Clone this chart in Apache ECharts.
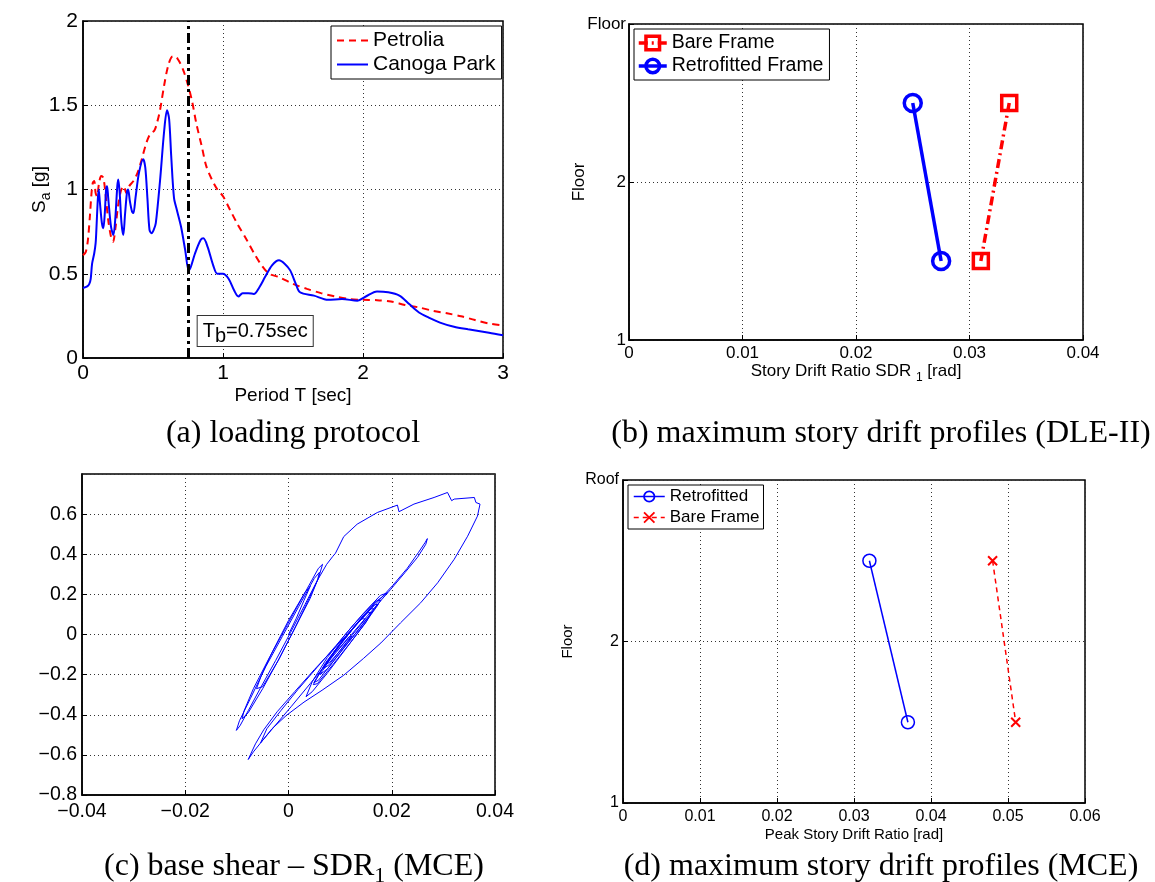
<!DOCTYPE html>
<html><head><meta charset="utf-8">
<script src="https://cdn.jsdelivr.net/npm/echarts@6/dist/echarts.min.js"></script>
<style>html,body{margin:0;padding:0;background:#fff}#c{width:1155px;height:882px}</style>
</head><body><div id="c"></div>
<script>
// ---------- Panel (a): response spectra ----------
const petroliaT  = [0,0.02,0.035,0.05,0.06,0.07,0.08,0.09,0.10,0.115,0.13,0.145,0.16,0.18,0.20,0.215,0.23,0.25,0.27,0.29,0.31,0.33,0.36,0.39,0.42,0.45,0.48,0.51,0.53,0.55,0.58,0.61,0.64,0.66,0.68,0.70,0.72,0.75,0.78,0.81,0.85,0.88,0.92,0.96,1.00,1.05,1.10,1.17,1.23,1.28,1.33,1.40,1.50,1.60,1.70,1.80,1.90,2.00,2.10,2.20,2.30,2.40,2.50,2.60,2.70,2.80,2.90,3.00];
const petroliaSa = [0.61,0.63,0.70,0.85,0.97,1.04,1.05,0.98,0.96,1.04,1.08,1.07,0.98,0.82,0.72,0.69,0.76,0.90,0.99,1.02,0.98,1.02,1.05,1.10,1.18,1.27,1.33,1.35,1.40,1.47,1.62,1.74,1.79,1.79,1.77,1.74,1.70,1.62,1.52,1.39,1.25,1.14,1.06,1.00,0.96,0.88,0.80,0.70,0.61,0.545,0.50,0.48,0.44,0.41,0.385,0.365,0.35,0.345,0.343,0.335,0.315,0.30,0.28,0.265,0.248,0.225,0.205,0.193];
const canogaT  = [0,0.03,0.045,0.055,0.065,0.08,0.09,0.095,0.105,0.112,0.12,0.135,0.145,0.155,0.165,0.172,0.18,0.20,0.217,0.23,0.245,0.252,0.262,0.275,0.288,0.30,0.315,0.322,0.335,0.35,0.36,0.375,0.40,0.43,0.445,0.46,0.475,0.49,0.505,0.52,0.55,0.58,0.60,0.615,0.63,0.65,0.67,0.70,0.73,0.755,0.77,0.80,0.84,0.86,0.89,0.93,0.96,1.00,1.04,1.08,1.11,1.14,1.18,1.22,1.26,1.30,1.35,1.40,1.44,1.48,1.52,1.55,1.65,1.75,1.85,1.96,2.02,2.10,2.18,2.26,2.33,2.40,2.47,2.55,2.65,2.75,2.90,3.00];
const canogaSa = [0.415,0.425,0.44,0.47,0.56,0.62,0.68,0.75,0.93,1.00,0.93,0.80,0.77,0.85,1.00,1.02,0.95,0.78,0.73,0.82,1.02,1.06,0.98,0.80,0.73,0.85,0.99,1.00,0.93,0.87,0.86,0.95,1.10,1.18,1.13,0.95,0.76,0.74,0.76,0.80,1.05,1.35,1.47,1.42,1.20,0.95,0.88,0.78,0.64,0.52,0.54,0.62,0.70,0.71,0.66,0.55,0.50,0.50,0.47,0.40,0.365,0.385,0.385,0.38,0.42,0.48,0.55,0.58,0.56,0.52,0.44,0.39,0.37,0.345,0.35,0.34,0.365,0.395,0.39,0.37,0.32,0.27,0.24,0.21,0.185,0.17,0.15,0.135];
const periodB = 0.75;

// ---------- Panel (b): DLE-II drift profiles ----------
const bFloors = [2.5, 1.5];
const bBare   = [0.0335, 0.031];
const bRetro  = [0.025, 0.0275];

// ---------- Panel (c): base shear vs SDR1 (x = SDR1, y = base shear) ----------
const cHyst = [
[0,0],[0.0015,0.08],[0.003,0.17],[0.0042,0.24],[0.0032,0.21],[0.0,0.07],[-0.003,-0.08],[-0.0052,-0.2],[-0.0062,-0.27],[-0.005,-0.26],[-0.002,-0.13],[0.0012,0.03],[0.004,0.18],[0.0058,0.28],[0.0066,0.35],[0.0058,0.33],[0.003,0.2],[-0.0002,0.05],[-0.0036,-0.11],[-0.0068,-0.27],[-0.0086,-0.38],[-0.009,-0.42],[-0.0078,-0.39],[-0.005,-0.27],[-0.0018,-0.12],[0.0014,0.04],[0.0042,0.18],[0.0056,0.27],[0.006,0.31],[0.005,0.28],[0.002,0.14],[-0.0012,-0.01],[-0.0044,-0.16],[-0.0074,-0.32],[-0.0095,-0.43],[-0.0101,-0.478],[-0.0094,-0.455],[-0.0078,-0.38],[-0.0055,-0.27],[-0.0025,-0.13],[0.0004,0.01],[0.0032,0.15],[0.0056,0.27],[0.0074,0.35],[0.0086,0.39],[0.0091,0.405],
[0.0107,0.488],[0.0133,0.55],[0.0172,0.608],[0.0211,0.645],[0.0214,0.612],[0.0243,0.65],[0.0282,0.683],[0.0308,0.708],[0.0316,0.667],[0.0321,0.675],[0.036,0.683],[0.0363,0.658],[0.0371,0.65],[0.0366,0.59],[0.0347,0.49],[0.0321,0.375],[0.0289,0.258],[0.0256,0.158],[0.0217,0.058],[0.0179,-0.042],[0.0145,-0.12],[0.0107,-0.203],[0.0065,-0.278],[0.003,-0.337],[-0.0004,-0.403],[-0.0032,-0.47],[-0.0053,-0.537],[-0.0068,-0.585],[-0.0078,-0.623],
[-0.0074,-0.6],[-0.0064,-0.545],[-0.0048,-0.475],[-0.0022,-0.385],[0.0012,-0.285],[0.005,-0.175],[0.009,-0.065],[0.013,0.045],[0.0168,0.15],[0.0202,0.245],[0.023,0.33],[0.0252,0.41],[0.0265,0.46],[0.0269,0.478],[0.0266,0.45],[0.025,0.385],[0.0226,0.31],[0.0198,0.225],[0.0162,0.12],[0.0122,0.0],[0.0082,-0.12],[0.0042,-0.245],[0.0005,-0.36],[-0.0028,-0.46],[-0.0054,-0.54],
[-0.0042,-0.47],[-0.0015,-0.38],[0.0018,-0.275],[0.0055,-0.165],[0.0092,-0.055],[0.0128,0.055],[0.0162,0.15],[0.0192,0.208],[0.0178,0.195],[0.0145,0.105],[0.011,0.0],[0.0075,-0.115],[0.0046,-0.235],[0.0034,-0.31],[0.0046,-0.285],[0.0076,-0.19],[0.011,-0.075],[0.0145,0.045],[0.0174,0.15],[0.0166,0.148],[0.0134,0.058],[0.01,-0.05],[0.0068,-0.16],[0.0049,-0.24],[0.0058,-0.228],[0.0088,-0.13],[0.0122,-0.02],[0.0157,0.095],[0.0179,0.17],[0.0171,0.168],[0.014,0.08],[0.0105,-0.03],[0.0072,-0.14],[0.0048,-0.25],[0.0056,-0.245],[0.0086,-0.15],[0.012,-0.04],[0.015,0.06],[0.0161,0.11],[0.0153,0.108],[0.0125,0.03],[0.0092,-0.08],[0.0066,-0.18],[0.0061,-0.2],[0.0076,-0.17],[0.0106,-0.07],[0.0138,0.03],[0.0166,0.128],[0.0158,0.128],[0.013,0.048],[0.0098,-0.05],[0.0076,-0.13],[0.0068,-0.17],[0.0079,-0.15],[0.0105,-0.062],[0.013,0.018],[0.0149,0.078],[0.0141,0.078],[0.0116,0.0],[0.009,-0.08],[0.0072,-0.15],[0.008,-0.138],[0.0101,-0.078],[0.0123,-0.01],[0.0117,-0.012],[0.0098,-0.07],[0.0085,-0.1]
];

// ---------- Panel (d): MCE drift profiles ----------
const dFloors = [2.5, 1.5];
const dRetro  = [0.032, 0.037];
const dBare   = [0.048, 0.051];

const legendLabels = {
  aPet:'Petrolia', aCan:'Canoga Park',
  bBare:'Bare Frame', bRetro:'Retrofitted Frame',
  dRetro:'Retrofitted', dBare:'Bare Frame'
};

const SANS = 'Liberation Sans';
const SERIF = 'Liberation Serif';
const pair = (xs, ys) => xs.map((x, i) => [x, ys[i]]);
const minus = v => String(Math.round(v * 1000) / 1000).replace('-', '\u2212');

function ax(gridIndex, fs, extra) {
  return Object.assign({
    gridIndex,
    type: 'value',
    axisLine: { show: true, onZero: false, lineStyle: { color: '#000', width: 1.5 } },
    axisTick: { show: true, inside: true, length: 5, lineStyle: { color: '#000' } },
    axisLabel: { color: '#000', fontSize: fs, fontFamily: SANS, margin: 5 },
    splitLine: { show: true, lineStyle: { color: '#333', type: [1, 3], width: 1 } },
    nameLocation: 'middle',
    nameMoveOverlap: false,
    nameTextStyle: { color: '#000', fontFamily: SANS }
  }, extra);
}

const gridBase = { show: true, borderColor: '#000', borderWidth: 1.5, backgroundColor: 'transparent', containLabel: false };

const legendBase = {
  orient: 'vertical', borderColor: '#000', borderWidth: 1, backgroundColor: '#fff',
  itemGap: 3, selectedMode: false, formatter: n => legendLabels[n],
  textStyle: { color: '#000', fontFamily: SANS }
};

const subRich = fs => ({
  n: { fontSize: fs, lineHeight: fs + 8, fontFamily: SANS, color: '#000' },
  s: { fontSize: Math.round(fs * 0.72), lineHeight: Math.round(fs * 0.72), verticalAlign: 'bottom', fontFamily: SANS, color: '#000' }
});
const capRich = {
  n: { fontSize: 32, lineHeight: 40, fontFamily: SERIF, fontWeight: 'normal', color: '#000' },
  s: { fontSize: 22, lineHeight: 22, verticalAlign: 'bottom', fontFamily: SERIF, fontWeight: 'normal', color: '#000' }
};
const capStyle = { fontWeight: 'normal', fontFamily: SERIF, rich: capRich };

const option = {
  animation: false,
  backgroundColor: '#fff',
  title: [
    { text: '{n|(a) loading protocol}', left: 288, top: 409, textAlign: 'center', textStyle: capStyle },
    { text: '{n|(b) maximum story drift profiles (DLE-II)}', left: 876, top: 409, textAlign: 'center', textStyle: capStyle },
    { text: '{n|(c) base shear \u2013 SDR}{s|1}{n| (MCE)}', left: 289, top: 842, textAlign: 'center', textStyle: capStyle },
    { text: '{n|(d) maximum story drift profiles (MCE)}', left: 876, top: 842, textAlign: 'center', textStyle: capStyle }
  ],
  grid: [
    Object.assign({ left: 83, top: 21, width: 420, height: 337 }, gridBase),
    Object.assign({ left: 629, top: 24, width: 454, height: 316 }, gridBase),
    Object.assign({ left: 82, top: 474, width: 413, height: 321 }, gridBase),
    Object.assign({ left: 623, top: 480, width: 462, height: 323 }, gridBase)
  ],
  legend: [
    Object.assign({}, legendBase, { data: ['aPet', 'aCan'], left: 331, top: 26, itemWidth: 31, itemHeight: 12, padding: [4, 6, 4, 5],
      itemStyle: { opacity: 0 }, lineStyle: { width: 2 },
      textStyle: { color: '#000', fontFamily: SANS, fontSize: 21 } }),
    Object.assign({}, legendBase, { data: ['bBare', 'bRetro'], left: 634, top: 29, itemWidth: 28, itemHeight: 17, padding: [4, 6, 4, 3],
      itemStyle: { borderWidth: 3.5 }, lineStyle: { width: 3.5 },
      textStyle: { color: '#000', fontFamily: SANS, fontSize: 19.5 } }),
    Object.assign({}, legendBase, { data: ['dRetro', 'dBare'], left: 628, top: 485, itemWidth: 31, itemHeight: 13, itemGap: 4, padding: [3, 4, 3, 5],
      itemStyle: { borderWidth: 1.8 }, lineStyle: { width: 1.5 },
      textStyle: { color: '#000', fontFamily: SANS, fontSize: 17 } })
  ],
  xAxis: [
    ax(0, 21, { min: 0, max: 3, interval: 1, name: 'Period T [sec]', nameGap: 28, nameTextStyle: { color: '#000', fontFamily: SANS, fontSize: 19 } }),
    ax(1, 17, { min: 0, max: 0.04, interval: 0.01, name: '{n|Story Drift Ratio SDR }{s|1}{n| [rad]}', nameGap: 19,
      nameTextStyle: { rich: subRich(17) } }),
    ax(2, 19.5, { min: -0.04, max: 0.04, interval: 0.02, axisLabel: { color: '#000', fontSize: 19.5, fontFamily: SANS, margin: 7, formatter: minus } }),
    ax(3, 16, { min: 0, max: 0.06, interval: 0.01, name: 'Peak Story Drift Ratio [rad]', nameGap: 24, nameTextStyle: { color: '#000', fontFamily: SANS, fontSize: 15 }, axisLabel: { color: '#000', fontSize: 16, fontFamily: SANS, margin: 6 } })
  ],
  yAxis: [
    ax(0, 21, { min: 0, max: 2, interval: 0.5, name: '{n|S}{s|a}{n| [g]}', nameGap: 30, nameTextStyle: { rich: subRich(19) } }),
    ax(1, 17, { min: 1, max: 3, interval: 1, name: 'Floor', nameGap: 41, nameTextStyle: { color: '#000', fontFamily: SANS, fontSize: 17 },
      axisLabel: { color: '#000', fontSize: 17, fontFamily: SANS, margin: 3, formatter: v => v === 3 ? 'Floor' : String(v) } }),
    ax(2, 19.5, { min: -0.8, max: 0.8, interval: 0.2, axisLabel: { color: '#000', fontSize: 19.5, fontFamily: SANS, margin: 5, showMaxLabel: false, formatter: minus } }),
    ax(3, 16, { min: 1, max: 3, interval: 1, name: 'Floor', nameGap: 48, nameTextStyle: { color: '#000', fontFamily: SANS, fontSize: 15 },
      axisLabel: { color: '#000', fontSize: 16, fontFamily: SANS, margin: 4, formatter: v => v === 3 ? 'Roof' : String(v) } })
  ],
  series: [
    { name: 'aPet', type: 'line', xAxisIndex: 0, yAxisIndex: 0, data: pair(petroliaT, petroliaSa), symbol: 'none', smooth: 0.3,
      lineStyle: { color: '#ff0000', width: 2, type: [7, 5] }, itemStyle: { color: '#ff0000' } },
    { name: 'aCan', type: 'line', xAxisIndex: 0, yAxisIndex: 0, data: pair(canogaT, canogaSa), symbol: 'none', smooth: 0.3,
      lineStyle: { color: '#0000ff', width: 2 }, itemStyle: { color: '#0000ff' },
      markLine: { silent: true, symbol: ['none', 'none'], label: { show: false },
        lineStyle: { color: '#000', width: 3, type: [10, 4, 3, 4] }, data: [{ xAxis: periodB }] },
      markPoint: { silent: true, symbol: 'rect', symbolSize: 1, itemStyle: { color: 'rgba(0,0,0,0)' },
        data: [{ coord: [1.23, 0.16], value: 0,
          label: { show: true, position: 'inside', formatter: '{n|T}{s|b}{n|=0.75sec}', backgroundColor: '#fff', borderColor: '#333', borderWidth: 1, padding: [0, 5, 0, 5],
            rich: { n: { fontSize: 20, lineHeight: 30, fontFamily: SANS, color: '#000' }, s: { fontSize: 20, lineHeight: 22, verticalAlign: 'bottom', fontFamily: SANS, color: '#000' } } } }] } },
    { name: 'bBare', type: 'line', xAxisIndex: 1, yAxisIndex: 1, data: pair(bBare, bFloors), symbol: 'rect', symbolSize: 15,
      lineStyle: { color: '#ff0000', width: 3.5, type: [9, 4, 2, 4] }, itemStyle: { color: 'rgba(0,0,0,0)', borderColor: '#ff0000', borderWidth: 3.5 } },
    { name: 'bRetro', type: 'line', xAxisIndex: 1, yAxisIndex: 1, data: pair(bRetro, bFloors), symbol: 'circle', symbolSize: 17,
      lineStyle: { color: '#0000ff', width: 3.5 }, itemStyle: { color: 'rgba(0,0,0,0)', borderColor: '#0000ff', borderWidth: 3.5 } },
    { name: 'cHyst', type: 'line', xAxisIndex: 2, yAxisIndex: 2, data: cHyst, symbol: 'none',
      lineStyle: { color: '#0000ff', width: 1 } },
    { name: 'dRetro', type: 'line', xAxisIndex: 3, yAxisIndex: 3, data: pair(dRetro, dFloors), symbol: 'circle', symbolSize: 13,
      lineStyle: { color: '#0000ff', width: 1.5 }, itemStyle: { color: 'rgba(0,0,0,0)', borderColor: '#0000ff', borderWidth: 1.5 } },
    { name: 'dBare', type: 'line', xAxisIndex: 3, yAxisIndex: 3, data: pair(dBare, dFloors), symbol: 'path://M0,0L10,10M10,0L0,10', symbolSize: 9,
      lineStyle: { color: '#ff0000', width: 1.5, type: [5, 4] }, itemStyle: { color: 'rgba(0,0,0,0)', borderColor: '#ff0000', borderWidth: 2 } }
  ]
};

echarts.init(document.getElementById('c'), null, { renderer: 'canvas' }).setOption(option);
</script></body></html>
